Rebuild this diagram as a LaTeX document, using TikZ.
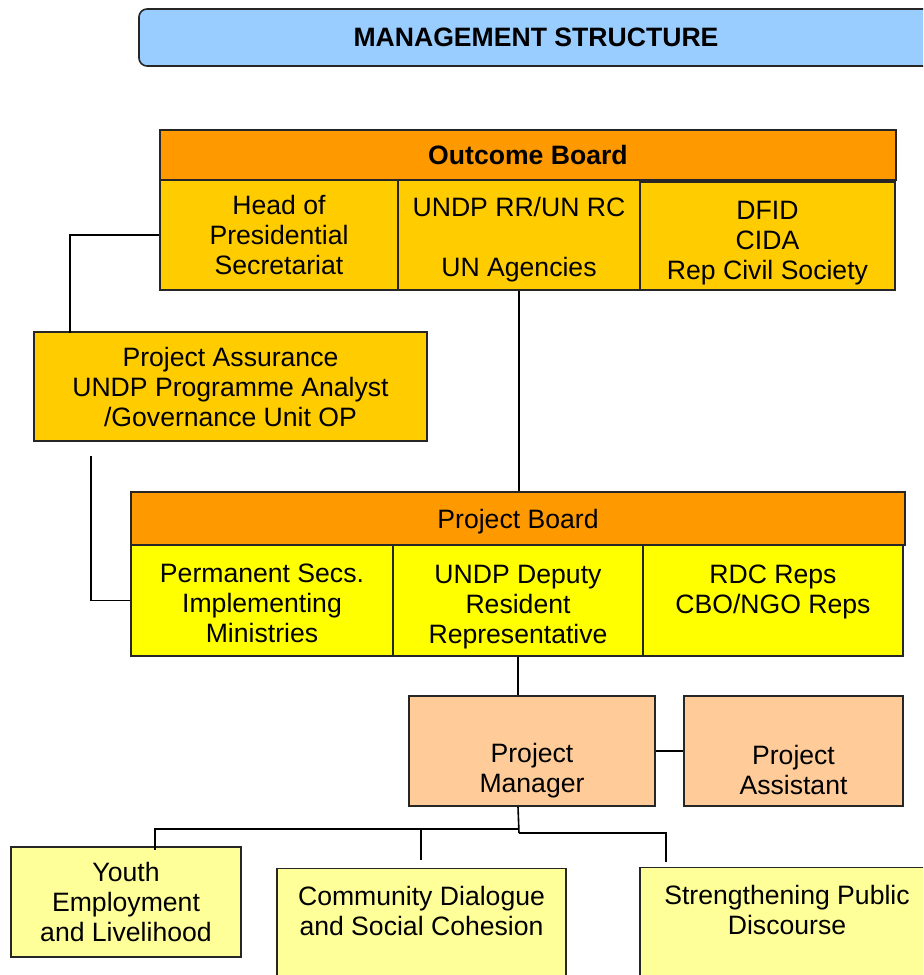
\documentclass[tikz,border=0pt]{standalone}
\usepackage{fontspec}
\setmainfont{Liberation Sans}
\usepackage{tikz}

\definecolor{titleblue}{HTML}{99CCFF}
\definecolor{boardorange}{HTML}{FF9900}
\definecolor{memgold}{HTML}{FFCC00}
\definecolor{memyellow}{HTML}{FFFF00}
\definecolor{mgrpeach}{HTML}{FFCC99}
\definecolor{outpale}{HTML}{FFFF99}

\newcommand{\droptext}[1]{\rule{0pt}{#1}}

\begin{document}
\begin{tikzpicture}
  [x = .5pt, y = -.5pt,
   box/.style = {draw = black!85, line width = .8pt, inner sep = 0pt, align = center,
     font = \fontsize{13.3}{15}\selectfont},
   link/.style = {draw = black, line width = .8pt}]
  \useasboundingbox (0,0) rectangle (923,975);
  \clip (0,0) rectangle (923,975);

  % title
  \node[box, fill = titleblue, rounded corners = 4pt, minimum width = 397pt, minimum height = 28.5pt,
    font = \fontsize{13.3}{15}\selectfont\bfseries] (title) at (536,37.5) {MANAGEMENT STRUCTURE};

  % outcome board
  \node[box, fill = boardorange, minimum width = 368pt, minimum height = 25pt,
    font = \fontsize{13.3}{15}\selectfont\bfseries] (oboard) at (528,155) {Outcome Board};
  \node[box, fill = memgold, minimum width = 119pt, minimum height = 55pt] (head) at (279,235)
    {Head of\\Presidential\\Secretariat};
  \node[box, fill = memgold, minimum width = 121pt, minimum height = 55pt] (undp) at (519,235)
    {\droptext{14.5pt}UNDP RR/UN RC\\~\\UN Agencies};
  \node[box, fill = memgold, minimum width = 127.5pt, minimum height = 54pt] (donor) at (767.5,236)
    {\droptext{16.5pt}DFID\\CIDA\\Rep Civil Society};

  % assurance
  \node[box, fill = memgold, minimum width = 196.5pt, minimum height = 54.5pt] (assur) at (230.5,386.5)
    {Project Assurance\\UNDP Programme Analyst\\/Governance Unit OP};

  % project board
  \node[box, fill = boardorange, minimum width = 387pt, minimum height = 26.5pt] (pboard) at (518,518.5)
    {\droptext{12.7pt}Project Board};
  \node[box, fill = memyellow, minimum width = 131pt, minimum height = 55.5pt] (perm) at (262,600.5)
    {\droptext{12.5pt}Permanent Secs.\\Implementing\\Ministries};
  \node[box, fill = memyellow, minimum width = 125pt, minimum height = 55.5pt] (deputy) at (518,600.5)
    {\droptext{15.7pt}UNDP Deputy\\Resident\\Representative};
  \node[box, fill = memyellow, minimum width = 130pt, minimum height = 55.5pt] (rdc) at (773,600.5)
    {\droptext{12.5pt}RDC Reps\\CBO/NGO Reps\\~};

  % management
  \node[box, fill = mgrpeach, minimum width = 123pt, minimum height = 55pt] (pm) at (532,751)
    {\droptext{14pt}~\\Project\\Manager};
  \node[box, fill = mgrpeach, minimum width = 109.5pt, minimum height = 55pt] (pa) at (793.5,751)
    {\droptext{14pt}~\\Project\\Assistant};

  % outputs
  \node[box, fill = outpale, minimum width = 115pt, minimum height = 55pt] (youth) at (126,902)
    {Youth\\Employment\\and Livelihood};
  \node[box, fill = outpale, minimum width = 144.5pt, minimum height = 63pt] (comm) at (421.5,932)
    {\droptext{18.7pt}Community Dialogue\\and Social Cohesion\\~\\~};
  \node[box, fill = outpale, minimum width = 147pt, minimum height = 63pt] (streng) at (787,931)
    {\droptext{18.7pt}Strengthening Public\\Discourse\\~\\~};

  % connectors
  \coordinate (assurtop) at (70,333);
  \coordinate (assurfoot) at (91,456);
  \coordinate (hubl) at (519,829);
  \coordinate (hubr) at (519,833);
  \coordinate (youthdrop) at (155,850);
  \coordinate (commdrop) at (421,860);
  \coordinate (strengdrop) at (666,862);

  \draw[link] (head.west) -| (assurtop);
  \draw[link] (assurfoot) |- (perm.west);
  \draw[link] (undp.south) -- (undp.south |- pboard.north);
  \draw[link] (deputy.south) -- (deputy.south |- pm.north);
  \draw[link] (pm.east) -- (pa.west);
  \draw[link] (deputy.south |- pm.south) -- (hubr);
  \draw[link] (hubl) -| (youthdrop);
  \draw[link] (hubl) -| (commdrop);
  \draw[link] (hubr) -| (strengdrop);
\end{tikzpicture}
\end{document}
